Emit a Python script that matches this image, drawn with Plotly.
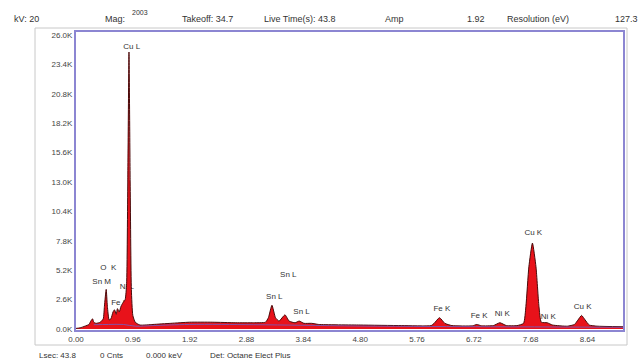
import plotly.graph_objects as go

# ---- data ----
energy_kev = [0.00, 0.07, 0.15, 0.22, 0.25, 0.28, 0.30, 0.34, 0.41, 0.46, 0.48, 0.51, 0.53, 0.56,
              0.59, 0.625, 0.65, 0.68, 0.70, 0.73, 0.76, 0.79, 0.83, 0.855, 0.875, 0.895, 0.915,
              0.935, 0.96, 1.00, 1.08, 1.30, 1.60, 1.92, 2.30, 2.70, 3.00, 3.20, 3.25, 3.31,
              3.37, 3.43, 3.53, 3.60, 3.70, 3.77, 3.85, 3.98, 4.10, 4.80, 5.50, 6.00, 6.05,
              6.14, 6.23, 6.35, 6.70, 6.77, 6.85, 7.05, 7.16, 7.27, 7.45, 7.56, 7.60, 7.65,
              7.71, 7.77, 7.82, 7.86, 7.96, 8.05, 8.30, 8.42, 8.48, 8.54, 8.60, 8.67, 8.80, 9.24]
counts = [50, 100, 250, 400, 700, 900, 600, 500, 600, 900, 2000, 3500, 2000, 800,
          900, 1500, 1700, 1300, 1800, 1500, 2000, 2300, 2600, 4000, 13000, 24500, 13000,
          3500, 1200, 600, 350, 400, 500, 600, 600, 550, 550, 600, 1000, 2100,
          1000, 700, 1250, 700, 550, 700, 500, 500, 400, 350, 300, 300, 500,
          1000, 500, 300, 280, 400, 280, 300, 550, 300, 300, 500, 2000, 5500,
          7600, 5500, 2000, 600, 550, 350, 250, 400, 800, 1200, 800, 350, 250, 200]

bg_kev = [0.30, 0.55, 0.80, 1.00, 1.30, 1.92, 3.00, 3.80, 4.80, 6.00, 7.00, 8.00, 9.24]
bg_counts = [380, 400, 400, 250, 300, 400, 380, 330, 260, 220, 200, 180, 150]

y_ticks = [0, 2600, 5200, 7800, 10400, 13000, 15600, 18200, 20800, 23400, 26000]
y_tick_labels = ["0.0K", "2.6K", "5.2K", "7.8K", "10.4K", "13.0K", "15.6K", "18.2K",
                 "20.8K", "23.4K", "26.0K"]
x_ticks = [0.00, 0.96, 1.92, 2.88, 3.84, 4.80, 5.76, 6.72, 7.68, 8.64]
x_tick_labels = ["0.00", "0.96", "1.92", "2.88", "3.84", "4.80", "5.76", "6.72", "7.68", "8.64"]

label_text = ["Cu L", "O  K", "Sn M", "Fe L", "Ni L", "Sn L", "Sn L", "Sn L",
              "Cu K", "Fe K", "Fe K", "Ni K", "Ni K", "Cu K"]
label_kev = [0.94, 0.546, 0.434, 0.73, 0.86, 3.586, 3.35, 3.81,
             7.725, 6.18, 6.81, 7.20, 7.98, 8.56]
label_counts = [24960, 5420, 4130, 2270, 3740, 4775, 2856, 1530,
                8460, 1740, 1150, 1300, 1035, 1970]

header_items = [("kV: 20", 12), ("Mag:", 103), ("Takeoff: 34.7", 180), ("Live Time(s): 43.8", 262),
                ("Amp", 383), ("1.92", 465), ("Resolution (eV)", 505), ("127.3", 613)]
footer_items = [("Lsec: 43.8", 37), ("0 Cnts", 98), ("0.000 keV", 144), ("Det: Octane Elect Plus", 208)]

# ---- layout geometry (pixels) ----
W, H = 642, 364
L, R, T, B = 76, 623, 32, 330


def px(x):
    return (x - L) / (R - L)


def py(y):
    return (B - y) / (B - T)


font = "Liberation Sans, Arial, sans-serif"
fig = go.Figure()

# peak labels first so the spectrum covers them
fig.add_trace(go.Scatter(x=label_kev, y=label_counts, mode="text", text=label_text,
                         textfont=dict(family=font, size=8, color="#333333"),
                         hoverinfo="skip", showlegend=False))

fig.add_trace(go.Scatter(x=energy_kev, y=counts, mode="lines", fill="tozeroy",
                         fillcolor="#e8121a", line=dict(color="#4a0a0a", width=1,
                                                         shape="spline", smoothing=0.5),
                         showlegend=False))

fig.add_trace(go.Scatter(x=bg_kev, y=bg_counts, mode="lines",
                         line=dict(color="#7060c8", width=1, shape="spline"),
                         opacity=0.8, showlegend=False))

fig.update_xaxes(range=[0, 9.24], tickvals=x_ticks, ticktext=x_tick_labels,
                 showgrid=False, zeroline=False, showline=True, mirror=True,
                 linecolor="#8c86d2", linewidth=2, ticks="",
                 tickfont=dict(family=font, size=8, color="#444444"))
fig.update_yaxes(range=[-90, 26270], tickvals=y_ticks, ticktext=y_tick_labels,
                 showgrid=False, zeroline=False, showline=True, mirror=True,
                 linecolor="#8c86d2", linewidth=2, ticks="",
                 tickfont=dict(family=font, size=8, color="#444444"))

shapes = [dict(type="rect", xref="paper", yref="paper", x0=px(35), x1=px(627), y0=py(345), y1=py(28),
               line=dict(color="#c8c8c8", width=1), layer="below")]

annotations = []
for txt, x0 in header_items:
    annotations.append(dict(text=txt, x=px(x0), y=py(19), xref="paper", yref="paper",
                            xanchor="left", yanchor="middle", showarrow=False,
                            font=dict(family=font, size=9, color="#333333")))
annotations.append(dict(text="2003", x=px(130), y=py(12), xref="paper", yref="paper",
                        xanchor="left", yanchor="middle", showarrow=False,
                        font=dict(family=font, size=7, color="#333333")))
for txt, x0 in footer_items:
    annotations.append(dict(text=txt, x=px(x0), y=py(355), xref="paper", yref="paper",
                            xanchor="left", yanchor="middle", showarrow=False,
                            font=dict(family=font, size=8, color="#333333")))

fig.update_layout(width=W, height=H, margin=dict(l=L, r=W - R, t=T, b=H - B, pad=0),
                  paper_bgcolor="white", plot_bgcolor="white",
                  shapes=shapes, annotations=annotations)

fig.write_html("out.html", config={"displayModeBar": False},
               post_script="document.body.style.margin='0';")
